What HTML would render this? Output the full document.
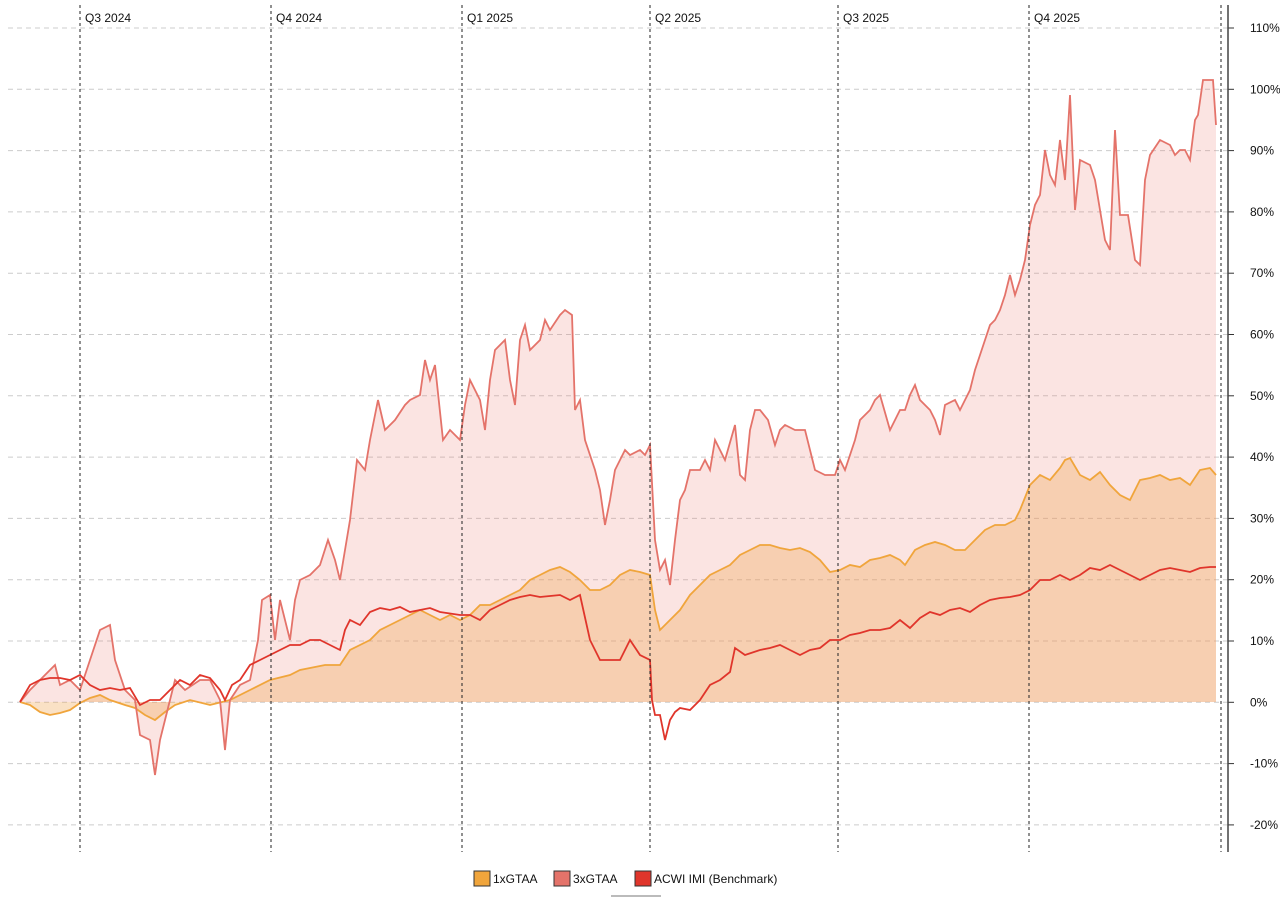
<!DOCTYPE html>
<html><head><meta charset="utf-8"><style>
body{margin:0;background:#fff;font-family:"Liberation Sans",sans-serif}
svg text{font-family:"Liberation Sans",sans-serif;font-size:12px;fill:#111}
</style></head><body>
<svg id="c" width="1280" height="898" xmlns="http://www.w3.org/2000/svg"></svg>
<script>
const s=document.getElementById('c');let h='';
const g3=[[20,702],[30,690],[40,680],[55,665],[60,685],[70,680],[80,690],[90,660],[100,630],[110,625],[115,660],[125,690],[135,700],[140,735],[150,740],[155,775],[160,740],[165,720],[175,680],[185,690],[200,680],[210,680],[220,700],[225,750],[230,700],[240,685],[250,680],[258,640],[262,600],[270,595],[275,640],[280,600],[290,640],[295,600],[300,580],[310,575],[320,565],[328,540],[335,560],[340,580],[345,550],[350,520],[357,460],[365,470],[370,440],[378,400],[385,430],[395,420],[405,405],[410,400],[420,395],[425,360],[430,380],[435,365],[443,440],[450,430],[460,440],[465,405],[470,380],[480,400],[485,430],[490,380],[495,350],[505,340],[510,380],[515,405],[520,340],[525,325],[530,350],[540,340],[545,320],[550,330],[560,315],[565,310],[572,315],[575,410],[580,400],[585,440],[595,470],[600,490],[605,525],[610,500],[615,470],[625,450],[630,455],[640,450],[645,455],[650,445],[655,540],[660,570],[665,560],[670,585],[675,540],[680,500],[685,490],[690,470],[700,470],[705,460],[710,470],[715,440],[725,460],[735,425],[740,475],[745,480],[750,430],[755,410],[760,410],[768,420],[775,445],[780,430],[785,425],[795,430],[805,430],[815,470],[825,475],[835,475],[840,460],[845,470],[855,440],[860,420],[870,410],[875,400],[880,395],[890,430],[900,410],[905,410],[910,395],[915,385],[920,400],[930,410],[935,420],[940,435],[945,405],[955,400],[960,410],[965,400],[970,390],[975,370],[980,355],[985,340],[990,325],[995,320],[1000,310],[1005,295],[1010,275],[1015,295],[1020,280],[1025,260],[1030,225],[1035,205],[1040,195],[1045,150],[1050,175],[1055,185],[1060,140],[1065,180],[1070,95],[1075,210],[1080,160],[1090,165],[1095,180],[1100,210],[1105,240],[1110,250],[1115,130],[1120,215],[1128,215],[1135,260],[1140,265],[1145,180],[1150,155],[1160,140],[1170,145],[1175,155],[1180,150],[1185,150],[1190,160],[1195,120],[1198,115],[1203,80],[1213,80],[1216,125]];
const g1=[[20,702],[30,705],[40,712],[50,715],[60,713],[70,710],[80,703],[90,698],[100,695],[110,700],[125,705],[135,708],[145,715],[155,720],[165,712],[175,705],[190,700],[210,705],[230,700],[250,690],[270,680],[290,675],[300,670],[310,668],[325,665],[340,665],[350,650],[360,645],[370,640],[380,630],[390,625],[400,620],[410,615],[420,610],[430,615],[440,620],[450,615],[460,620],[470,615],[480,605],[490,605],[500,600],[510,595],[520,590],[530,580],[540,575],[550,570],[560,567],[570,572],[580,580],[590,590],[600,590],[610,585],[620,575],[630,570],[640,572],[650,575],[655,610],[660,630],[665,625],[670,620],[680,610],[690,595],[700,585],[710,575],[720,570],[730,565],[740,555],[750,550],[760,545],[770,545],[780,548],[790,550],[800,548],[810,552],[820,560],[830,572],[840,570],[850,565],[860,567],[870,560],[880,558],[890,555],[900,560],[905,565],[915,550],[925,545],[935,542],[945,545],[955,550],[965,550],[975,540],[985,530],[995,525],[1005,525],[1015,520],[1020,510],[1030,485],[1040,475],[1050,480],[1060,468],[1065,460],[1070,458],[1080,475],[1090,480],[1100,472],[1110,485],[1120,495],[1130,500],[1140,480],[1150,478],[1160,475],[1170,480],[1180,478],[1190,485],[1200,470],[1210,468],[1216,475]];
const ac=[[20,702],[30,685],[40,680],[50,678],[60,678],[70,680],[80,675],[90,685],[100,690],[110,688],[120,690],[130,688],[140,705],[150,700],[160,700],[170,690],[180,680],[190,685],[200,675],[210,678],[220,690],[225,700],[232,685],[240,680],[250,665],[260,660],[270,655],[280,650],[290,645],[300,645],[310,640],[320,640],[330,645],[340,650],[345,630],[350,620],[360,625],[370,612],[380,608],[390,610],[400,607],[410,612],[420,610],[430,608],[440,612],[460,615],[470,615],[480,620],[490,610],[500,605],[510,600],[520,597],[530,595],[540,597],[550,596],[560,595],[570,600],[580,595],[590,640],[600,660],[610,660],[620,660],[630,640],[640,655],[650,660],[652,700],[655,715],[660,715],[665,740],[670,720],[675,712],[680,708],[690,710],[700,700],[710,685],[720,680],[730,672],[735,648],[745,655],[760,650],[770,648],[780,645],[790,650],[800,655],[810,650],[820,648],[830,640],[840,640],[850,635],[860,633],[870,630],[880,630],[890,628],[900,620],[910,628],[920,618],[930,612],[940,615],[950,610],[960,608],[970,612],[980,605],[990,600],[1000,598],[1010,597],[1020,595],[1030,590],[1040,580],[1050,580],[1060,575],[1070,580],[1080,575],[1090,568],[1100,570],[1110,565],[1120,570],[1130,575],[1140,580],[1150,575],[1160,570],[1170,568],[1180,570],[1190,572],[1200,568],[1210,567],[1216,567]];
const P=a=>a.map(p=>p.join(',')).join(' ');
// grid
for(let i=0;i<=13;i++){const v=110-i*10,y=28+i*61.3;
h+=`<line x1="8" x2="1228" y1="${y}" y2="${y}" stroke="#ccc" stroke-dasharray="5,4"/>`;
h+=`<line x1="1228" x2="1234" y1="${y}" y2="${y}" stroke="#333"/>`;
h+=`<text x="1250" y="${y+4}">${v}%</text>`;}
// fills
h+=`<polygon points="${P(g3)} 1216,702 20,702" fill="rgba(235,120,110,0.2)"/>`;
h+=`<polygon points="${P(g1)} 1216,702 20,702" fill="rgba(240,165,80,0.33)"/>`;
h+=`<polyline points="${P(g1)}" fill="none" stroke="#f0a53c" stroke-width="1.8"/>`;
h+=`<polyline points="${P(g3)}" fill="none" stroke="#e4736a" stroke-width="1.8"/>`;
h+=`<polyline points="${P(ac)}" fill="none" stroke="#e0352b" stroke-width="1.8"/>`;
// quarters
[[80,'Q3 2024'],[271,'Q4 2024'],[462,'Q1 2025'],[650,'Q2 2025'],[838,'Q3 2025'],[1029,'Q4 2025'],[1221,'']].forEach(([x,t])=>{
h+=`<line x1="${x}" x2="${x}" y1="5" y2="852" stroke="#222" stroke-dasharray="3,3"/>`;
if(t)h+=`<text x="${x+5}" y="22">${t}</text>`;});
h+=`<line x1="1228" x2="1228" y1="5" y2="852" stroke="#444" stroke-width="1.5"/>`;
// legend
const L=[[474,'#f0a53c','1xGTAA'],[554,'#e4736a','3xGTAA'],[635,'#e0352b','ACWI IMI (Benchmark)']];
L.forEach(([x,c,t])=>{h+=`<rect x="${x}" y="871" width="16" height="15" fill="${c}" stroke="#333"/><text x="${x+19}" y="883">${t}</text>`;});
h+=`<rect x="611" y="895" width="50" height="2" fill="#bbb"/>`;
s.innerHTML=h;
</script>
</body></html>
